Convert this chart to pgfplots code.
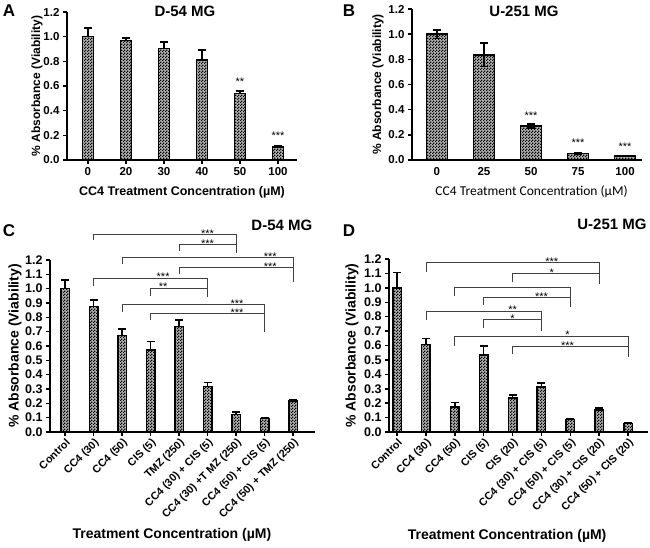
\documentclass[border=0pt]{standalone}
\usepackage{pgfplots}
\pgfplotsset{compat=1.18}
\usepackage{fontspec}
\setmainfont{Liberation Sans}
\newfontfamily\calfont{Carlito}
\usetikzlibrary{patterns}

\newcommand{\fs}[1]{\fontsize{#1}{#1}\selectfont}

% fine checkerboard fill of the bars
\pgfdeclarepatternformonly{fchk}{\pgfpointorigin}{\pgfqpoint{3pt}{3pt}}{\pgfqpoint{3pt}{3pt}}{%
  \pgfpathrectangle{\pgfpointorigin}{\pgfqpoint{1.5pt}{1.5pt}}%
  \pgfpathrectangle{\pgfqpoint{1.5pt}{1.5pt}}{\pgfqpoint{1.5pt}{1.5pt}}%
  \pgfusepath{fill}}

% significance bracket: x1 x2 y yleftend yrightend
\newcommand{\brk}[5]{\draw[black!75,line width=0.8pt] (axis cs:#1,#4) -- (axis cs:#1,#3) -- (axis cs:#2,#3) -- (axis cs:#2,#5);}
\newcommand{\stars}[3]{\node[font=\fs{11},anchor=base,inner sep=0pt,yshift=-3pt] at (axis cs:#1,#2) {#3};}

\pgfplotsset{
  panel/.style={
    scale only axis, anchor=south west, clip=false,
    axis lines=left, axis line style={line width=1.6pt,-},
    ymin=0, ymax=1.2, enlargelimits=false, ybar,
    tick align=outside, major tick length=4pt,
    every tick/.style={black,line width=1.5pt},
    yticklabel style={font=\bfseries\fs{11.5},
      /pgf/number format/fixed,/pgf/number format/fixed zerofill,
      /pgf/number format/precision=1,/pgf/number format/assume math mode=true},
    xticklabel style={font=\bfseries\fs{11.5}},
    ylabel style={font=\bfseries\fs{12},anchor=center},
    xlabel style={font=\bfseries\fs{12.5},anchor=center},
    title style={font=\bfseries\fs{15},anchor=center},
  },
  bars/.style={draw=black,line width=1.5pt,fill=black!30,postaction={pattern=fchk},
    error bars/y dir=plus,error bars/y explicit,
    error bars/error bar style={line width=1.5pt,black},
    error bars/error mark options={rotate=90,line width=1.5pt,mark size=4pt,black}},
  bigpanel/.style={panel,
    ytick={0,0.1,0.2,0.3,0.4,0.5,0.6,0.7,0.8,0.9,1.0,1.1,1.2},
    yticklabel style={font=\bfseries\fs{12.5}},
    xtick={0,...,8},
    xticklabel style={rotate=45,anchor=north east,font=\bfseries\fs{10.8},inner sep=1pt},
    ylabel style={font=\bfseries\fs{14}},
    xlabel style={font=\bfseries\fs{14}},
    bar width=8.5pt},
}

\begin{document}
\begin{tikzpicture}
\path (0,0) rectangle (650pt,547pt);

% ---------- A ----------
\begin{axis}[panel, at={(67pt,387pt)}, width=230pt, height=148pt,
    xmin=-0.55, xmax=5.5, bar width=11pt,
    xtick={0,...,5}, xticklabels={0,20,30,40,50,100},
    ytick={0,0.2,0.4,0.6,0.8,1.0,1.2},
    ylabel={\% Absorbance (Viability)},
    ylabel style={at={(axis description cs:-0.13,0.5)}},
    xlabel={CC4 Treatment Concentration (µM)},
    xlabel style={at={(axis description cs:0.5,-0.216)}},
    title={D-54 MG}, title style={at={(axis description cs:0.513,0.966)}}]
  \addplot[bars] table[x=x,y=y,y error=e] {
x y e
0 1.00 0.07
1 0.97 0.02
2 0.905 0.05
3 0.81 0.08
4 0.54 0.02
5 0.105 0.007
};
  \node[font=\fs{11},yshift=-2pt] at (axis cs:4,0.65) {**};
  \node[font=\fs{11},yshift=-2pt] at (axis cs:5,0.216) {***};
\end{axis}

% ---------- B ----------
\begin{axis}[panel, at={(412pt,387pt)}, width=230pt, height=151pt,
    xmin=-0.53, xmax=4.36, bar width=21pt,
    xtick={0,...,4}, xticklabels={0,25,50,75,100},
    xtick style={draw=none},
    ytick={0,0.2,0.4,0.6,0.8,1.0,1.2},
    ylabel={\% Absorbance (Viability)},
    ylabel style={at={(axis description cs:-0.148,0.5)}},
    xlabel={CC4 Treatment Concentration (µM)},
    xlabel style={font=\calfont\fs{13.5},at={(axis description cs:0.52,-0.21)}},
    title={U-251 MG}, title style={at={(axis description cs:0.487,0.947)}}]
  \addplot[bars,error bars/y dir=both] table[x=x,y=y,y error=e] {
x y e
0 1.00 0.035
1 0.835 0.093
2 0.27 0.015
3 0.05 0.006
4 0.03 0.004
};
  \node[font=\fs{11},yshift=-2pt] at (axis cs:2,0.37) {***};
  \node[font=\fs{11},yshift=-2pt] at (axis cs:3,0.154) {***};
  \node[font=\fs{11},yshift=-2pt] at (axis cs:4,0.12) {***};
\end{axis}

% ---------- C ----------
\begin{axis}[bigpanel, at={(50pt,115pt)}, width=265pt, height=172pt,
    xmin=-0.53, xmax=8.77,
    xticklabels={Control,CC4 (30),CC4 (50),CIS (5),TMZ (250),CC4 (30) + CIS (5),CC4 (30) +T MZ (250),CC4 (50) + CIS (5),CC4 (50) + TMZ (250)},
    ylabel={\% Absorbance (Viability)},
    ylabel style={at={(axis description cs:-0.132,0.5)}},
    xlabel={Treatment Concentration (µM)},
    xlabel style={at={(axis description cs:0.46,-0.6)}},
    title={D-54 MG}, title style={at={(axis description cs:0.875,1.169)}}]
  \addplot[bars] table[x=x,y=y,y error=e] {
x y e
0 1.00 0.06
1 0.877 0.045
2 0.672 0.048
3 0.573 0.06
4 0.737 0.043
5 0.316 0.028
6 0.122 0.018
7 0.094 0.008
8 0.218 0.009
};
  \brk{1}{6}{1.38}{1.34}{1.25} \stars{5.0}{1.38}{***}
  \brk{4}{6}{1.31}{1.26}{1.25} \stars{5.0}{1.31}{***}
  \brk{2}{8}{1.22}{1.17}{1.05} \stars{7.2}{1.22}{***}
  \brk{4}{8}{1.15}{1.10}{1.05} \stars{7.2}{1.15}{***}
  \brk{1}{5}{1.075}{1.02}{0.94} \stars{3.44}{1.075}{***}
  \brk{3}{5}{1.005}{0.95}{0.94} \stars{3.44}{1.005}{**}
  \brk{2}{7}{0.89}{0.84}{0.70} \stars{6.03}{0.89}{***}
  \brk{3}{7}{0.83}{0.78}{0.70} \stars{6.03}{0.83}{***}
\end{axis}

% ---------- D ----------
\begin{axis}[bigpanel, at={(389pt,115pt)}, width=259pt, height=173pt,
    xmin=-0.28, xmax=8.69,
    xticklabels={Control,CC4 (30),CC4 (50),CIS (5),CIS (20),CC4 (30) + CIS (5),CC4 (50) + CIS (5),CC4 (30) + CIS (20),CC4 (50) + CIS (20)},
    ylabel={\% Absorbance (Viability)},
    ylabel style={at={(axis description cs:-0.143,0.5)}},
    xlabel={Treatment Concentration (µM)},
    xlabel style={at={(axis description cs:0.456,-0.6)}},
    title={U-251 MG}, title style={at={(axis description cs:0.861,1.168)}}]
  \addplot[bars] table[x=x,y=y,y error=e] {
x y e
0 1.00 0.107
1 0.608 0.04
2 0.174 0.03
3 0.534 0.063
4 0.237 0.018
5 0.313 0.027
6 0.088 0.005
7 0.151 0.016
8 0.058 0.007
};
  \brk{1}{7}{1.174}{1.11}{1.03} \stars{5.36}{1.174}{***}
  \brk{4}{7}{1.10}{1.04}{1.03} \stars{5.36}{1.10}{*}
  \brk{2}{6}{1.005}{0.94}{0.87}
  \brk{3}{6}{0.936}{0.88}{0.87} \stars{5.0}{0.936}{***}
  \brk{1}{5}{0.84}{0.78}{0.70} \stars{4.0}{0.84}{**}
  \brk{3}{5}{0.78}{0.72}{0.70} \stars{4.0}{0.78}{*}
  \brk{2}{8}{0.666}{0.60}{0.52} \stars{5.9}{0.666}{*}
  \brk{4}{8}{0.596}{0.54}{0.52} \stars{5.9}{0.596}{***}
\end{axis}

% panel letters
\node[font=\bfseries\fs{17}] at (9pt,536pt) {A};
\node[font=\bfseries\fs{17}] at (349pt,536pt) {B};
\node[font=\bfseries\fs{17}] at (9pt,316pt) {C};
\node[font=\bfseries\fs{17}] at (349pt,316pt) {D};

\pgfresetboundingbox
\path[use as bounding box] (0,0) rectangle (650pt,547pt);
\end{tikzpicture}
\end{document}
